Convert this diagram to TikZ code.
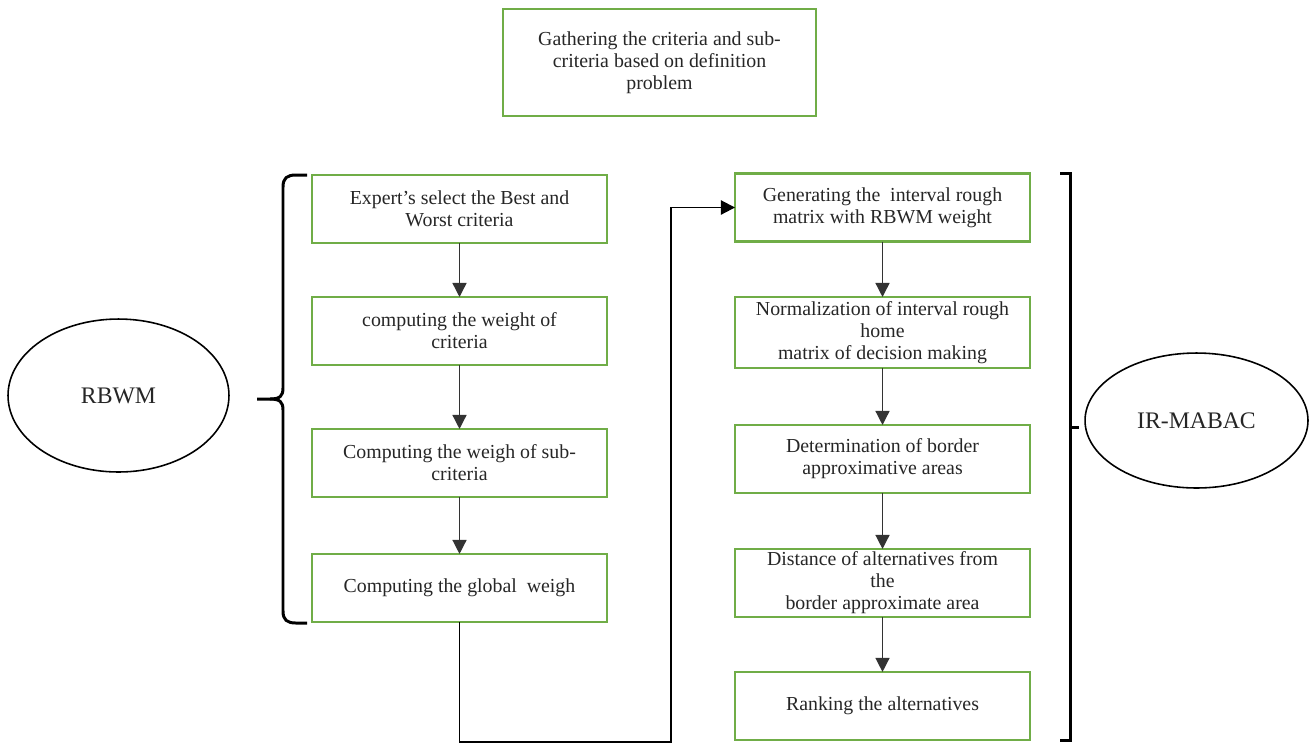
\documentclass[tikz,border=0pt]{standalone}
\usepackage{fontspec}
\setmainfont{Liberation Serif}
\usetikzlibrary{positioning,shapes.geometric,arrows.meta}

\definecolor{boxgreen}{HTML}{70AD47}
\definecolor{txtgray}{HTML}{262626}

\begin{document}
\begin{tikzpicture}[
  x=0.02cm, y=-0.02cm,
  every node/.style={font=\fontsize{11.3}{12.5}\selectfont, text=txtgray},
  box/.style={rectangle, draw=boxgreen, line width=1.3pt, minimum width=5.9cm,
              minimum height=1.36cm, align=center, inner sep=1pt, outer sep=0pt},
  oval/.style={ellipse, draw, line width=0.9pt, inner sep=0pt,
               font=\fontsize{13.5}{16}\selectfont},
  arr/.style={-{Triangle[length=8pt, width=8pt]}, line width=0.8pt, draw=black!80},
  link/.style={-{Triangle[length=8pt, width=8pt]}, line width=1.1pt},
  brk/.style={line width=1.7pt}
]
\useasboundingbox (0,0) rectangle (1310,745);

\node[box, minimum width=6.26cm, minimum height=2.14cm] (gather) at (659.5,62.5)
  {Gathering the criteria and sub-\\criteria based on definition\\problem};

% RBWM column
\node[box]                          (sel)   at (459.5,209) {Expert’s select the Best and\\Worst criteria};
\node[box, below=1.08cm of sel]     (wcrit) {computing the weight of\\criteria};
\node[box, below=1.28cm of wcrit]   (wsub)  {Computing the weigh of sub-\\criteria};
\node[box, below=1.14cm of wsub]    (glob)  {Computing the global\ \ weigh};

% IR-MABAC column
\node[box]                                        (gen)    at (882.5,207.5) {Generating the\ \ interval rough\\matrix with RBWM weight};
\node[box, minimum height=1.42cm, below=1.11cm of gen] (norm) {Normalization of interval rough\\home\\matrix of decision making};
\node[box, below=1.14cm of norm]                  (border) {Determination of border\\approximative areas};
\node[box, below=1.12cm of border]                (dist)   {Distance of alternatives from\\the\\border approximate area};
\node[box, below=1.10cm of dist]                  (rank)   {Ranking the alternatives};

\node[oval, minimum width=4.42cm, minimum height=3.06cm] (rbwm)  at (118.5,395.5) {RBWM};
\node[oval, minimum width=4.46cm, minimum height=2.70cm] (mabac) at (1196.5,420.5) {IR-MABAC};

\draw[arr] (sel)   -- (wcrit);
\draw[arr] (wcrit) -- (wsub);
\draw[arr] (wsub)  -- (glob);

\draw[arr] (gen)    -- (norm);
\draw[arr] (norm)   -- (border);
\draw[arr] (border) -- (dist);
\draw[arr] (dist)   -- (rank);

% from the last RBWM step over to the first MABAC step
\coordinate (turn) at (671,742);
\draw[link] (glob.south) |- (turn) |- (gen.west);

% brace round the RBWM steps
\draw[brk] (307,175) -- (296,175) .. controls (287,175) and (283,178) .. (283,187)
  -- (283,388) .. controls (283,396) and (280,399) .. (270,399) -- (257,399);
\draw[brk] (270,399) .. controls (280,399) and (283,402) .. (283,410)
  -- (283,611) .. controls (283,620) and (287,623) .. (296,623) -- (307,623);
% bracket round the IR-MABAC steps
\draw[brk] (1060,173) -- (1070,173) -- (1070,740) -- (1060,740);
\draw[brk] (1070,427) -- (1079,427);

\end{tikzpicture}
\end{document}
